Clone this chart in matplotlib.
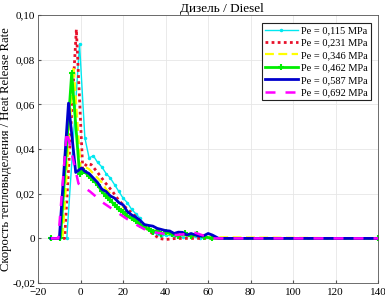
import numpy as np
from matplotlib import pyplot as plt
from matplotlib.ticker import FuncFormatter

# crank angle (deg) / heat release rate
x_115 = [-14, -6.5, -0.5, 2, 4, 6, 8, 10, 12, 14, 16, 18, 20, 22, 24, 26, 28, 30, 32, 34, 36, 38, 40, 44, 48, 52, 56, 140]
y_115 = [0, 0, 0.087, 0.045, 0.036, 0.037, 0.034, 0.032, 0.029, 0.027, 0.024, 0.021, 0.018, 0.016, 0.013, 0.011, 0.009, 0.006, 0.004, 0.003, 0.002, 0.001, 0.0015, 0.001, 0.0005, 0.001, 0, 0]

x_231 = [-14, -7.5, -2, 1, 3, 5, 8, 11.5, 15, 18, 21, 24.5, 28, 31, 34, 37, 40, 45, 140]
y_231 = [0, 0, 0.0935, 0.031, 0.0335, 0.033, 0.0295, 0.025, 0.021, 0.017, 0.014, 0.011, 0.008, 0.0045, 0.002, 0, -0.0005, 0, 0]

x_346 = [-14, -8.5, -3.3, 0, 2, 4, 6, 8, 10, 12, 14, 16, 18, 20, 22, 24, 26, 28, 30, 33, 36, 40, 44, 48, 52, 56, 60, 140]
y_346 = [0, 0, 0.077, 0.031, 0.032, 0.031, 0.029, 0.027, 0.025, 0.022, 0.020, 0.018, 0.016, 0.014, 0.012, 0.010, 0.008, 0.007, 0.006, 0.004, 0.003, 0.002, 0.002, 0.0015, 0.001, 0.0012, 0.0005, 0]

x_462 = [-14, -9.5, -4.2, -0.5, 1.5, 4, 6, 8, 10, 12, 14, 16, 18, 20, 22, 24, 26, 28, 30, 32, 34, 36, 38, 40, 43, 46, 49, 52, 55, 58, 62, 140]
y_462 = [0, 0, 0.074, 0.029, 0.030, 0.028, 0.026, 0.024, 0.021, 0.019, 0.017, 0.015, 0.013, 0.012, 0.010, 0.009, 0.008, 0.006, 0.005, 0.004, 0.003, 0.0035, 0.002, 0.0028, 0.002, 0.001, 0.0022, 0.001, 0.0018, 0.0008, 0, 0]

x_587 = [-14, -10, -5.7, -2.3, 0.5, 2, 4, 6, 8, 10, 12, 14, 16, 18, 20, 22, 24, 26, 28, 30, 32, 34, 36, 38, 40, 42, 44, 46, 48, 50, 52, 54, 56, 58, 60, 62, 65, 140]
y_587 = [0, 0, 0.0605, 0.0295, 0.0315, 0.030, 0.029, 0.027, 0.025, 0.022, 0.021, 0.019, 0.018, 0.016, 0.015, 0.012, 0.0105, 0.0095, 0.008, 0.0062, 0.0058, 0.0055, 0.0045, 0.004, 0.0035, 0.0033, 0.0022, 0.0028, 0.0027, 0.0015, 0.0022, 0.0015, 0.001, 0.0012, 0.0022, 0.0015, 0, 0]

x_692 = [-14, -10.5, -6.5, -1, 4.4, 10.5, 17, 24, 31, 36, 40, 45, 50, 54, 58, 62, 140]
y_692 = [0, 0, 0.048, 0.0245, 0.021, 0.016, 0.0118, 0.0073, 0.0036, 0.0025, 0.002, 0.0015, 0.002, 0.0025, 0.0012, 0, 0]

labels = ['Pe = 0,115 MPa', 'Pe = 0,231 MPa', 'Pe = 0,346 MPa',
          'Pe = 0,462 MPa', 'Pe = 0,587 MPa', 'Pe = 0,692 MPa']

plt.rcParams['font.family'] = ['Liberation Serif', 'DejaVu Serif']
plt.rcParams['font.size'] = 8

fig = plt.figure(figsize=(3.85, 2.98), dpi=100)
ax = fig.add_axes([0.099, 0.05, 0.883, 0.90])

ax.plot(x_115, y_115, color='#00e8f0', lw=1.0, marker='.', ms=3, label=labels[0])
ax.plot(x_231, y_231, color='#e8102a', lw=2.0, ls=(0, (1, 1.2)), label=labels[1])
ax.plot(x_346, y_346, color='#ffff00', lw=1.6, ls=(0, (4, 2)), label=labels[2])
ax.plot(x_462, y_462, color='#00ee00', lw=2.0, marker='+', ms=4, mew=1.5, label=labels[3])
ax.plot(x_587, y_587, color='#0000cc', lw=2.0, label=labels[4])
ax.plot(x_692, y_692, color='#ff00ff', lw=1.8, ls=(0, (4, 4)), label=labels[5])

ax.set_xlim(-20, 140)
ax.set_ylim(-0.02, 0.10)
ax.set_xticks(np.arange(-20, 141, 20))
ax.set_yticks([-0.02, 0, 0.02, 0.04, 0.06, 0.08, 0.10])

def fmt_y(v, pos):
    if abs(v) < 1e-9:
        return '0'
    return ('%.2f' % v).replace('.', ',')

ax.yaxis.set_major_formatter(FuncFormatter(fmt_y))
ax.grid(True, color='#e6e6e6', lw=0.6)
ax.set_axisbelow(True)
ax.tick_params(direction='in', length=2, labelsize=8, color='#555555', pad=2)
ax.tick_params(axis='x', pad=3.5)
for s in ax.spines.values():
    s.set_color('#555555')
    s.set_linewidth(0.6)

ax.set_title('Дизель / Diesel', fontsize=9.5, pad=2, x=0.54)
ax.set_ylabel('Скорость тепловыделения / Heat Release Rate', fontsize=9.1)
ax.yaxis.set_label_coords(-0.078, 0.5)

leg = ax.legend(loc='upper right', fontsize=7.5, handlelength=3.2, labelspacing=0.3,
                borderpad=0.3, handletextpad=0.3, fancybox=False, framealpha=1,
                bbox_to_anchor=(0.995, 0.99))
leg.get_frame().set_edgecolor('#222222')
leg.get_frame().set_linewidth(0.8)

fig.savefig('out.png', dpi=100)
